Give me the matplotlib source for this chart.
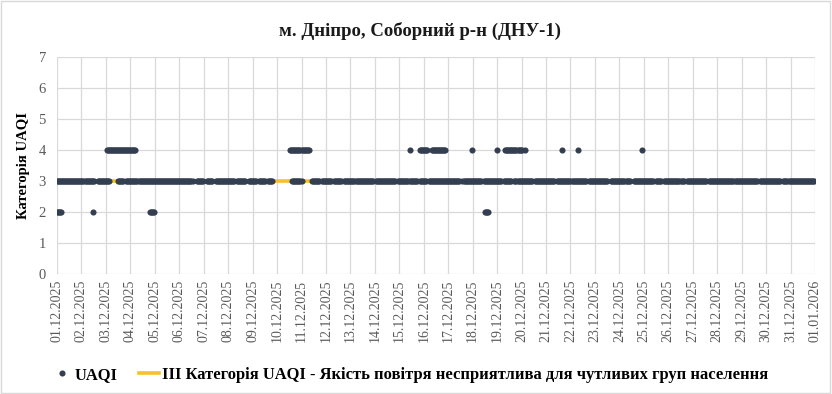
import numpy as np
import matplotlib.pyplot as plt
from matplotlib.lines import Line2D

plt.rcParams['font.family'] = ['Liberation Serif', 'DejaVu Serif']

# hourly readings, 01.12.2025 00:00 .. 31.12.2025 23:00 (hour index 0..743)
n_hours = 744
# hours with no reading at the usual level 3 (start, end)
gaps_3 = [(37, 40), (52, 60), (66, 68), (134, 137), (144, 147), (153, 156),
          (175, 177), (186, 188), (196, 198), (205, 207), (212, 231), (241, 250),
          (258, 260), (270, 272), (280, 282), (311, 313), (333, 335), (354, 356),
          (363, 365), (396, 398), (417, 419), (437, 439), (447, 449), (467, 469),
          (489, 491), (520, 522), (541, 544), (563, 566), (586, 588), (594, 596),
          (616, 618), (638, 640), (688, 690), (711, 713)]
# hours with UAQI = 4
level_4 = [(49, 78), (229, 248), (346, 347), (356, 364), (368, 382), (407, 408),
           (432, 433), (440, 457), (459, 460), (496, 497), (511, 512), (574, 575)]
# hours with UAQI = 2
level_2 = [(0, 5), (35, 36), (91, 96), (420, 424)]

tick_labels = ['%02d.12.2025' % d for d in range(1, 32)] + ['01.01.2026']
threshold = 3

hours = []
vals = []
missing = set()
for a, b in gaps_3:
    missing.update(range(a, b))
for h in range(n_hours):
    if h not in missing:
        hours.append(h)
        vals.append(3)
for runs, v in ((level_4, 4), (level_2, 2)):
    for a, b in runs:
        for h in range(a, b):
            hours.append(h)
            vals.append(v)

dot_color = '#333f50'
line_color = '#f5c12c'
grey = '#595959'

fig = plt.figure(figsize=(8.32, 3.94), dpi=100)
ax = fig.add_axes([57 / 832, 1 - 274 / 394, (815 - 57) / 832, (274 - 57) / 394])

ax.plot([0, n_hours], [threshold, threshold], color=line_color, lw=2.6, zorder=2,
        solid_capstyle='butt')
ax.plot(hours, vals, 'o', color=dot_color, ms=4.4, mew=0, zorder=3)

ax.set_xlim(0, n_hours)
ax.set_ylim(0, 7)
ax.set_xticks(np.arange(0, n_hours + 1, 24))
ax.set_xticklabels(tick_labels, rotation=90, fontsize=10, color=grey)
ax.set_yticks(range(8))
ax.tick_params(axis='y', labelsize=10.5, colors=grey, length=0, pad=8)
ax.tick_params(axis='x', length=0, pad=4)
ax.grid(True, color='#d9d9d9', lw=0.9)
ax.set_axisbelow(True)
for s in ax.spines.values():
    s.set_visible(False)

ax.set_ylabel('Категорія UAQI', fontsize=10.5, fontweight='bold', color='black', labelpad=6)

fig.text(0.505, 0.922, 'м. Дніпро, Соборний р-н (ДНУ-1)', ha='center', va='center',
         fontsize=13.5, fontweight='bold', color='#1a1a1a')

handles = [Line2D([], [], marker='o', ls='none', color=dot_color, ms=4.4, mew=0),
           Line2D([], [], color=line_color, lw=2.6)]
labels = ['UAQI', 'III Категорія UAQI - Якість повітря несприятлива для чутливих груп населення']
leg = fig.legend(handles, labels, loc='center', bbox_to_anchor=(0.493, 0.048), ncol=2,
                 frameon=False, handlelength=1.2, columnspacing=1.3, handletextpad=0.2,
                 prop={'weight': 'bold', 'size': 11.9})

fig.patches.append(plt.Rectangle((0.001, 0.002), 0.997, 0.995, transform=fig.transFigure,
                                 fill=False, edgecolor='#d9d9d9', lw=1))

fig.savefig('out.png', dpi=100)
